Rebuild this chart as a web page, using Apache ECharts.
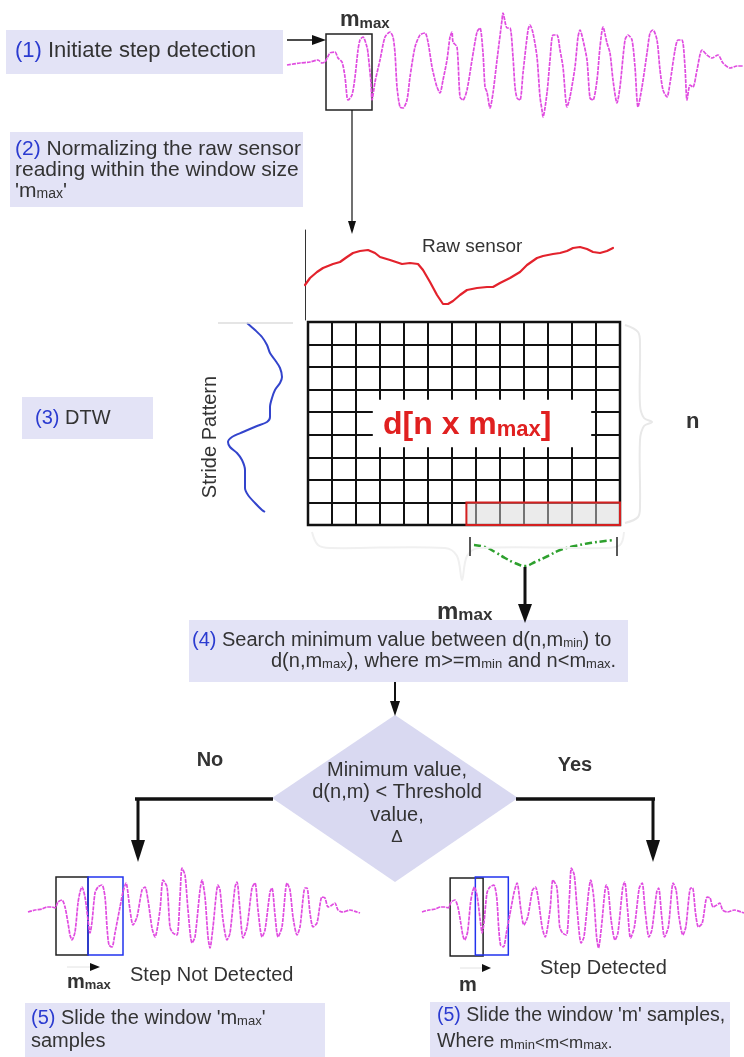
<!DOCTYPE html>
<html><head><meta charset="utf-8">
<script src="https://cdn.jsdelivr.net/npm/echarts@6/dist/echarts.min.js"></script>
<style>html,body{margin:0;padding:0;background:#fff}#c{width:744px;height:1057px}</style>
</head><body><div id="c"></div>
<script>
// ---- data ----
const topT = [2,15,25,33,37,40,45,50,53,57,60,62,63,67,70,73,75,78,82,83,86,87,90,95,100,105,108,110,112,115,118,122,125,130,135,140,143,147,150,152,155,158,162,165,167,168,172,175,178,182,187,192,195,198,200,202,205,208,212,217,218,222,225,228,230,232,235,238,243,245,248,252,255,257,258,262,265,268,272,275,278,282,285,290,293,295,298,302,305,308,312,315,318,322,325,328,332,335,340,343,347,350,353,357,362,365,368,372,375,378,382,385,390,393,397,400,402,405,408,412,417,422,427,433,438,445,452,458];
const topA = [0,2,3,5,2,3,12,13,7,3,-12,-32,-35,-30,-12,15,25,28,18,12,-18,-35,-17,5,28,33,28,12,-22,-42,-43,-35,-12,18,30,32,23,-2,-15,-22,-28,-15,5,28,33,23,18,-32,-35,-25,5,33,37,12,-22,-27,-43,-28,5,45,52,37,37,8,-22,-33,-35,-8,35,40,32,8,-32,-45,-52,-28,5,30,30,15,-2,-42,-32,-2,28,35,25,5,-33,-35,-15,18,38,22,12,-15,-38,-22,25,30,25,-2,-42,-22,12,32,35,25,-5,-25,-32,-18,15,25,25,-2,-35,-20,-22,-5,15,10,7,10,2,-3,-1,-1];
const stepT = [0,7,14,19,24,27,30,34,37,40,42,44,47,50,52,54,57,60,62,64,67,70,74,77,79,81,84,87,92,95,98,102,105,109,114,117,120,124,127,132,135,139,142,145,149,152,154,157,160,164,167,172,174,177,180,182,185,190,192,195,199,202,207,209,212,215,219,224,227,230,234,237,242,244,247,250,254,259,262,265,269,272,277,279,282,285,289,294,297,300,304,307,310,315,322,329,332];
const stepA = [-2,0,1,3,3,2,8,10,3,-13,-25,-30,-22,7,18,23,13,-10,-23,-12,17,23,25,13,-17,-35,-37,-23,3,18,27,0,-15,-7,20,23,10,-18,-27,0,30,23,-17,-23,-25,13,42,35,0,-33,-27,20,30,13,-27,-38,-17,25,20,-10,-30,-23,23,28,0,-28,-17,22,27,0,-27,-20,18,22,-5,-27,-17,27,20,-7,-25,-17,22,22,-3,-17,-13,13,12,3,5,7,0,-2,0,-2,-3];
const rawT = [0,5,12,18,28,35,42,48,55,63,70,75,85,97,105,113,118,125,132,138,143,148,155,162,172,182,188,195,205,215,222,232,238,248,255,262,268,275,282,288,295,302,308];
const rawA = [35,42,48,52,56,58,63,67,69,70,67,63,60,56,57,56,50,38,25,16,16,19,25,30,32,33,33,37,42,48,55,62,64,66,67,69,72,73,71,68,67,69,72];
const strideP = [3,10,17,25,33,40,48,57,63,70,78,87,97,102,106,112,117,122,127,133,140,150,160,168,175,183,190,192];
const strideV = [27,35,42,47,50,55,60,62,60,55,52,50,50,47,37,23,12,8,10,17,22,25,25,25,28,35,42,45];
const greenT = [4,15,25,35,45,55,65,78,90,105,120,135,144];
const greenA = [25,23,18,12,7,4,8,14,20,24,27,29,30];
const dtwCols = 13, dtwRows = 9;
const minRowRange = [6.6, 13];      // highlighted last-row cells (columns)
const topWindow = [41, 87];          // m_max window on the top signal (samples)
const leftWindows = [[28, 60], [60, 95]];
const rightWindows = [[29, 63], [55, 89]];

const zip = (a, b) => a.map((v, i) => [v, b[i]]);
const FF = '"Liberation Sans", Arial, sans-serif';
const LAV = '#e3e3f6', BLUE = '#2b3bd0', TXT = '#333';

function grid(l, t, w, h, extra) { return Object.assign({left: l, top: t, width: w, height: h}, extra || {}); }
function hx(i, min, max) { return {gridIndex: i, type: 'value', min: min, max: max, show: false}; }
function rectArea(x0, x1, y0, y1, color) {
  return [{coord: [x0, y0], itemStyle: {color: 'rgba(0,0,0,0)', borderColor: color, borderWidth: 1.5}}, {coord: [x1, y1]}];
}
const PINK = {color: '#e04ce0', width: 1.7, type: [4, 1]};

const chart = echarts.init(document.getElementById('c'), null, {renderer: 'canvas'});

function txt(x, y, text, o) {
  o = o || {};
  const sz = o.size || 20;
  return {type: 'text', x: x, y: y, rotation: o.rot || 0, z: 50,
    style: {text: text, fontFamily: FF, fontSize: sz, fontWeight: o.bold ? 'bold' : 'normal',
      fill: o.color || TXT, align: o.align || 'left', verticalAlign: 'middle',
      rich: Object.assign({
        b: {fill: BLUE, fontSize: sz, fontFamily: FF},
        s: {fontSize: o.sub || 13, fontFamily: FF, fill: o.color || TXT, fontWeight: o.bold ? 'bold' : 'normal', verticalAlign: 'bottom'},
        m: {fontSize: sz, fontFamily: FF, fill: o.color || TXT, fontWeight: o.bold ? 'bold' : 'normal', verticalAlign: 'bottom'}
      }, o.rich || {})}};
}
function box(x, y, w, h, fill) { return {type: 'rect', shape: {x: x, y: y, width: w, height: h}, style: {fill: fill || LAV}, z: 10}; }
function line(x1, y1, x2, y2, w, c) { return {type: 'line', shape: {x1: x1, y1: y1, x2: x2, y2: y2}, style: {stroke: c || '#111', lineWidth: w || 1.5}, z: 20}; }
function poly(pts, c) { return {type: 'polygon', shape: {points: pts}, style: {fill: c || '#111'}, z: 20}; }
function pl(pts, c, w) { return {type: 'polyline', shape: {points: pts, smooth: 0.35}, style: {stroke: c, lineWidth: w, fill: null}, z: 5}; }

const graphics = [
  // faint braces / guide
  pl([[625, 325], [638, 332], [640, 345], [640, 405], [644, 418], [652, 422], [644, 426], [640, 440], [640, 505], [638, 517], [625, 523]], '#e8e8e8', 2),
  pl([[312, 532], [318, 545], [330, 548], [445, 548], [457, 556], [462, 580], [467, 556], [479, 548], [605, 548], [620, 545], [624, 532]], '#f0f0f0', 2),
  line(218, 323, 293, 323, 1.5, '#dddddd'),
  // boxes
  box(6, 30, 277, 44), box(10, 132, 293, 75), box(22, 397, 131, 42),
  box(189, 620, 439, 62), box(25, 1003, 300, 54), box(430, 1002, 300, 55),
  {type: 'polygon', shape: {points: [[395, 715], [518, 798], [395, 882], [272, 798]]}, style: {fill: '#d9d9f1'}, z: 3},
  // texts in boxes
  txt(15, 51, '{b|(1)} Initiate step detection', {size: 22}),
  txt(15, 149, '{b|(2)} Normalizing the raw sensor', {size: 21}),
  txt(15, 170, 'reading within the window size', {size: 21}),
  txt(15, 191, "'m{s|max}'", {size: 21, sub: 14}),
  txt(35, 418, '{b|(3)} DTW'),
  txt(192, 640, '{b|(4)} Search minimum value between d(n,m{s|min}) to', {sub: 12}),
  txt(271, 661, 'd(n,m{s|max}), where m>=m{s|min} and n<m{s|max}.'),
  txt(397, 770, 'Minimum value,', {align: 'center'}),
  txt(397, 792, 'd(n,m) < Threshold', {align: 'center'}),
  txt(397, 815, 'value,', {align: 'center'}),
  txt(397, 837, '\u0394', {align: 'center', size: 17}),
  txt(31, 1018, "{b|(5)} Slide the window 'm{s|max}'"),
  txt(31, 1041, 'samples'),
  txt(437, 1016, "{b|(5)} Slide the window 'm' samples,", {size: 19.5}),
  txt(437, 1042, 'Where {k|m}{s|min}{k|<m<m}{s|max}{k|.}', {size: 19.5, rich: {k: {fontSize: 17, fontFamily: FF, fill: TXT, verticalAlign: 'bottom'}}}),
  // labels
  txt(340, 20, '{m|m}{s|max}', {bold: true, size: 22, sub: 15}),
  txt(437, 612, '{m|m}{s|max}', {bold: true, size: 24, sub: 17}),
  txt(67, 982, '{m|m}{s|max}', {bold: true, size: 20, sub: 13}),
  txt(459, 985, 'm', {bold: true, size: 20}),
  txt(686, 422, 'n', {bold: true, size: 22}),
  txt(210, 760, 'No', {bold: true, align: 'center'}),
  txt(575, 765, 'Yes', {bold: true, align: 'center'}),
  txt(422, 247, 'Raw sensor', {size: 19}),
  txt(130, 975, 'Step Not Detected'),
  txt(540, 968, 'Step Detected'),
  txt(210, 437, 'Stride Pattern', {rot: Math.PI / 2, align: 'center'}),
  txt(383, 425, '{d|d[n x m}{e|max}{d|]}', {rich: {
    d: {fontSize: 32, fontWeight: 'bold', fill: '#e02020', fontFamily: FF, verticalAlign: 'bottom'},
    e: {fontSize: 22, fontWeight: 'bold', fill: '#e02020', fontFamily: FF, verticalAlign: 'bottom'}}}),
  // arrows
  line(287, 40, 314, 40, 1.5), poly([[312, 35], [326, 40], [312, 45]]),
  line(352, 110, 352, 222, 1.2), poly([[348, 221], [352, 234], [356, 221]]),
  line(525, 567, 525, 606, 3), poly([[518, 604], [525, 623], [532, 604]]),
  line(395, 682, 395, 703, 2), poly([[390, 701], [395, 716], [400, 701]]),
  line(135, 799, 273, 799, 3.5), line(138, 799, 138, 842, 3), poly([[131, 840], [138, 862], [145, 840]]),
  line(516, 799, 655, 799, 3.5), line(653, 799, 653, 842, 3), poly([[646, 840], [653, 862], [660, 840]]),
  line(67, 967, 90, 967, 1, '#e2e2e2'), poly([[90, 963], [100, 967], [90, 971]]),
  line(460, 968, 482, 968, 1, '#e2e2e2'), poly([[482, 964], [491, 968], [482, 972]])
];

const option = {
  animation: false,
  backgroundColor: '#fff',
  grid: [
    grid(285, 0, 459, 125),
    grid(305, 230, 310, 90),
    grid(220, 320, 70, 200),
    grid(308, 322, 312, 203, {show: true, borderColor: '#111', borderWidth: 2.5, backgroundColor: 'rgba(0,0,0,0)'}),
    grid(470, 530, 147, 40),
    grid(28, 860, 332, 100),
    grid(422, 860, 322, 100)
  ],
  xAxis: [
    hx(0, 0, 459), hx(1, 0, 310), hx(2, 0, 70),
    {gridIndex: 3, type: 'value', min: 0, max: dtwCols, interval: 1, axisLine: {show: false}, axisTick: {show: false}, axisLabel: {show: false},
      splitLine: {show: true, lineStyle: {color: '#111', width: 2}}},
    hx(4, 0, 147), hx(5, 0, 332), hx(6, 0, 332)
  ],
  yAxis: [
    hx(0, -60, 65),
    {gridIndex: 1, type: 'value', min: 0, max: 90, axisLine: {show: true, lineStyle: {color: '#333', width: 1}}, axisTick: {show: false}, axisLabel: {show: false}, splitLine: {show: false}},
    Object.assign(hx(2, 0, 200), {inverse: true}),
    {gridIndex: 3, type: 'value', min: 0, max: dtwRows, interval: 1, axisLine: {show: false}, axisTick: {show: false}, axisLabel: {show: false},
      splitLine: {show: true, lineStyle: {color: '#111', width: 2}}},
    hx(4, 0, 40), hx(5, -50, 50), hx(6, -50, 50)
  ],
  series: [
    {type: 'line', xAxisIndex: 0, yAxisIndex: 0, data: zip(topT, topA), showSymbol: false, smooth: 0.25, lineStyle: PINK,
      markArea: {silent: true, data: [rectArea(topWindow[0], topWindow[1], 31, -45, '#222')]}},
    {type: 'line', xAxisIndex: 1, yAxisIndex: 1, data: zip(rawT, rawA), showSymbol: false, smooth: false, lineStyle: {color: '#e3222c', width: 2.2, join: 'round', cap: 'round'}},
    {type: 'line', xAxisIndex: 2, yAxisIndex: 2, data: zip(strideV, strideP), showSymbol: false, smooth: 0.3, lineStyle: {color: '#3344cc', width: 2}},
    {type: 'line', xAxisIndex: 3, yAxisIndex: 3, data: [], showSymbol: false,
      markArea: {silent: true, data: [
        [{coord: [minRowRange[0], 0], itemStyle: {color: 'rgba(215,215,215,0.5)', borderColor: '#d42020', borderWidth: 2}}, {coord: [minRowRange[1], 1]}],
        [{coord: [2.7, 3.45], itemStyle: {color: '#ffffff'}}, {coord: [11.8, 5.55]}]
      ]}},
    {type: 'line', xAxisIndex: 4, yAxisIndex: 4, data: zip(greenT, greenA), showSymbol: false, smooth: 0.4,
      lineStyle: {color: '#2ea02e', width: 2.5, type: [7, 3, 2, 3]},
      markLine: {silent: true, symbol: 'none', label: {show: false}, lineStyle: {color: '#222', width: 1.5, type: 'solid'},
        data: [[{coord: [0, 33]}, {coord: [0, 14]}], [{coord: [147, 33]}, {coord: [147, 14]}]]}},
    {type: 'line', xAxisIndex: 5, yAxisIndex: 5, data: zip(stepT, stepA), showSymbol: false, smooth: 0.25, lineStyle: PINK,
      markArea: {silent: true, data: [rectArea(leftWindows[0][0], leftWindows[0][1], 33, -45, '#222'), rectArea(leftWindows[1][0], leftWindows[1][1], 33, -45, '#2233ee')]}},
    {type: 'line', xAxisIndex: 6, yAxisIndex: 6, data: zip(stepT, stepA), showSymbol: false, smooth: 0.25, lineStyle: PINK,
      markArea: {silent: true, data: [rectArea(rightWindows[0][0], rightWindows[0][1], 32, -46, '#222'), rectArea(rightWindows[1][0], rightWindows[1][1], 33, -45, '#2233ee')]}}
  ],
  graphic: graphics
};
chart.setOption(option);
</script></body></html>
